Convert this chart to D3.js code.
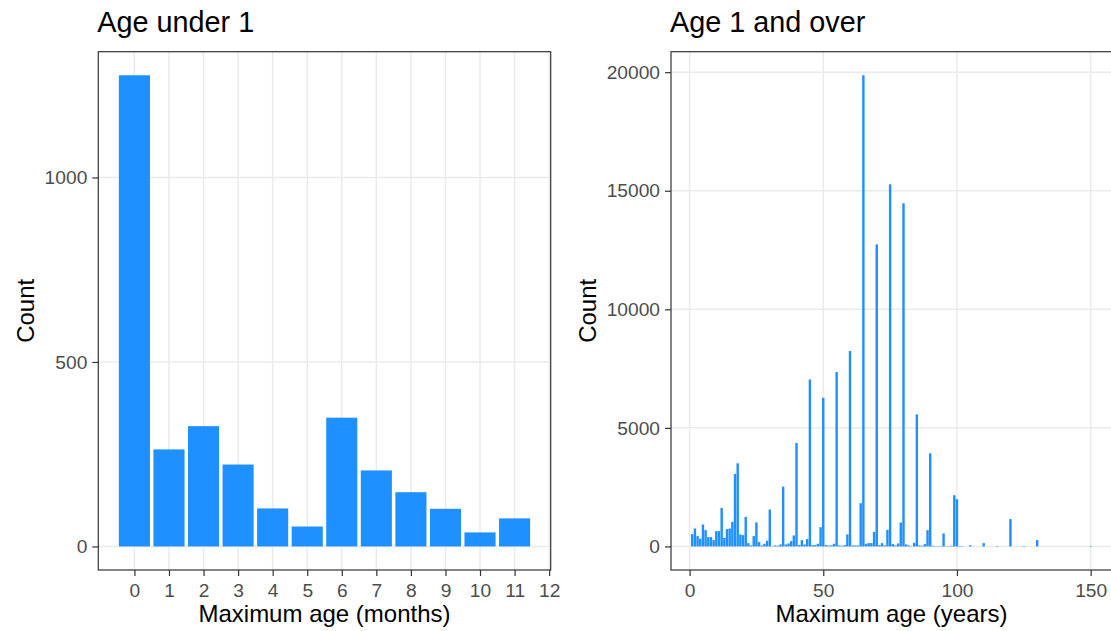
<!DOCTYPE html>
<html>
<head>
<meta charset="utf-8">
<script src="https://cdn.jsdelivr.net/npm/d3@7"></script>
<style>
  html, body { margin: 0; padding: 0; background: #fff; }
  svg { display: block; font-family: "Liberation Sans", Arial, sans-serif; }
</style>
</head>
<body>
<svg id="chart" width="1111" height="631"></svg>
<script>
// ---- Data ----
const monthCategories = [0, 1, 2, 3, 4, 5, 6, 7, 8, 9, 10, 11];
const monthCounts = [1277, 263, 326, 222, 103, 54, 349, 206, 147, 102, 38, 76];
const monthTicks = [0, 1, 2, 3, 4, 5, 6, 7, 8, 9, 10, 11, 12];
const monthCountTicks = [0, 500, 1000];

const yearAges = [
  1, 2, 3, 4, 5, 6, 7, 8, 9, 10,
  11, 12, 13, 14, 15, 16, 17, 18, 19, 20,
  21, 22, 23, 24, 25, 26, 27, 28, 29, 30,
  31, 32, 33, 34, 35, 36, 37, 38, 39, 40,
  41, 42, 43, 44, 45, 46, 47, 48, 49, 50,
  51, 52, 53, 54, 55, 56, 57, 58, 59, 60,
  61, 62, 63, 64, 65, 66, 67, 68, 69, 70,
  71, 72, 73, 74, 75, 76, 77, 78, 79, 80,
  81, 82, 83, 84, 85, 86, 87, 88, 89, 90,
  91, 92, 93, 94, 95, 96, 97, 98, 99, 100,
  101, 102, 105, 110, 115, 120, 125, 130, 150
];
const yearCounts = [
  519, 757, 435, 323, 926, 687, 393, 393, 266, 645,
  645, 1627, 365, 729, 757, 1038, 3058, 3506, 505, 477,
  1248, 140, 42, 435, 1015, 182, 42, 112, 238, 1557,
  14, 42, 28, 84, 2525, 84, 126, 224, 463, 4362,
  56, 266, 84, 308, 7040, 56, 56, 112, 813, 6269,
  56, 40, 42, 112, 7354, 42, 28, 56, 505, 8241,
  42, 42, 42, 1823, 19870, 112, 140, 140, 617, 12740,
  56, 140, 42, 701, 15270, 98, 42, 126, 1010, 14470,
  84, 42, 14, 154, 5568, 42, 28, 98, 687, 3927,
  28, 14, 14, 14, 547, 14, 14, 28, 2160, 1991,
  14, 14, 50, 140, 20, 1155, 20, 266, 20
];
const yearTicks = [0, 50, 100, 150];
const yearCountTicks = [0, 5000, 10000, 15000, 20000];

// ---- Drawing ----
const svg = d3.select("#chart");
const FILL = "#1E90FF";
const GRID = "#EBEBEB";
const DARK = "#333333";
const TICKTXT = "#4D4D4D";

function expand(lo, hi, m = 0.05) {
  const d = hi - lo;
  return [lo - d * m, hi + d * m];
}

function drawPanel(o) {
  const g = svg.append("g");
  const xDom = expand(d3.min(o.cats) - 0.45, d3.max(o.cats) + 0.45);
  const yDom = expand(0, d3.max(o.vals));
  const x = d3.scaleLinear().domain(xDom).range([o.left, o.right]);
  const y = d3.scaleLinear().domain(yDom).range([o.bottom, o.top]);

  // grid
  g.append("g").selectAll("line.v").data(o.xTicks).join("line")
    .attr("x1", d => x(d)).attr("x2", d => x(d))
    .attr("y1", o.top).attr("y2", o.bottom)
    .attr("stroke", GRID).attr("stroke-width", 1.5);
  g.append("g").selectAll("line.h").data(o.yTicks).join("line")
    .attr("x1", o.left).attr("x2", o.right)
    .attr("y1", d => y(d)).attr("y2", d => y(d))
    .attr("stroke", GRID).attr("stroke-width", 1.5);

  // bars
  const data = o.cats.map((c, i) => ({ c, v: o.vals[i] }));
  g.append("g").selectAll("rect").data(data).join("rect")
    .attr("x", d => x(d.c - 0.45))
    .attr("width", d => x(d.c + 0.45) - x(d.c - 0.45))
    .attr("y", d => y(d.v))
    .attr("height", d => y(0) - y(d.v))
    .attr("fill", FILL);

  // border
  g.append("rect")
    .attr("x", o.left).attr("y", o.top)
    .attr("width", o.right - o.left).attr("height", o.bottom - o.top)
    .attr("fill", "none").attr("stroke", DARK).attr("stroke-width", 1.2);

  // axes
  const xa = g.append("g").attr("transform", `translate(0,${o.bottom})`)
    .call(d3.axisBottom(x).tickValues(o.xTicks).tickFormat(d3.format("d"))
      .tickSize(6).tickPadding(7));
  const ya = g.append("g").attr("transform", `translate(${o.left},0)`)
    .call(d3.axisLeft(y).tickValues(o.yTicks).tickFormat(d3.format("d"))
      .tickSize(6).tickPadding(5));
  [xa, ya].forEach(a => {
    a.select(".domain").remove();
    a.selectAll(".tick line").attr("stroke", DARK).attr("stroke-width", 1.2);
    a.selectAll(".tick text").attr("fill", TICKTXT)
      .style("font-size", "19.2px").style("font-family", "'Liberation Sans', Arial, sans-serif");
  });

  // titles
  g.append("text").attr("x", o.left - 1).attr("y", 32)
    .style("font-size", "28.8px").attr("fill", "#000").text(o.title);
  g.append("text").attr("x", (o.left + o.right) / 2).attr("y", 622)
    .attr("text-anchor", "middle").style("font-size", "24px").attr("fill", "#000")
    .text(o.xTitle);
  g.append("text")
    .attr("transform", `translate(${o.yTitleX},${(o.top + o.bottom) / 2}) rotate(-90)`)
    .attr("text-anchor", "middle").style("font-size", "24px").attr("fill", "#000")
    .text("Count");
}

drawPanel({
  cats: monthCategories, vals: monthCounts, xTicks: monthTicks, yTicks: monthCountTicks,
  left: 98.3, right: 550.7, top: 51.7, bottom: 570,
  title: "Age under 1", xTitle: "Maximum age (months)", yTitleX: 34
});

drawPanel({
  cats: yearAges, vals: yearCounts, xTicks: yearTicks, yTicks: yearCountTicks,
  left: 671, right: 1111.9, top: 51.7, bottom: 570,
  title: "Age 1 and over", xTitle: "Maximum age (years)", yTitleX: 596
});
</script>
</body>
</html>
